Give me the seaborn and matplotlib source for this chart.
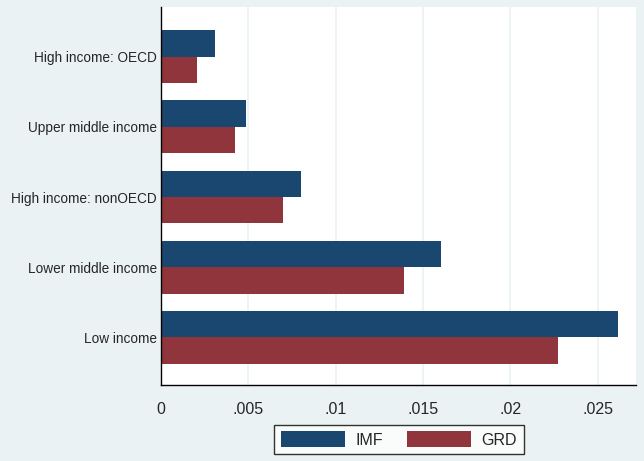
import pandas as pd
import numpy as np
import matplotlib
matplotlib.use("Agg")
import matplotlib.pyplot as plt
import seaborn as sns
from matplotlib.patches import Patch

# Data
categories = ["High income: OECD", "Upper middle income", "High income: nonOECD",
              "Lower middle income", "Low income"]
imf_values = [0.00312, 0.00485, 0.0080, 0.01603, 0.02617]
grd_values = [0.00209, 0.00421, 0.00697, 0.0139, 0.02273]
series_names = ["IMF", "GRD"]
x_ticks = [0, 0.005, 0.01, 0.015, 0.02, 0.025]
x_tick_labels = ["0", ".005", ".01", ".015", ".02", ".025"]

bg_color = "#EAF2F3"
colors = ["#1A476F", "#90353B"]

df = pd.DataFrame({
    "category": categories * 2,
    "value": imf_values + grd_values,
    "series": [series_names[0]] * len(categories) + [series_names[1]] * len(categories),
})

sns.set_style("white")
plt.rcParams["font.family"] = ["Liberation Sans", "DejaVu Sans"]

fig = plt.figure(figsize=(6.44, 4.61), dpi=100)
fig.patch.set_facecolor(bg_color)
ax = fig.add_axes([0.25, 0.1649, 0.7376, 0.8199])
ax.set_facecolor("white")

sns.barplot(data=df, x="value", y="category", hue="series", order=categories,
            hue_order=series_names, palette=colors, orient="h", width=0.754,
            saturation=1, gap=0, linewidth=0, ax=ax, legend=False)

ax.set_xlim(0, 0.0272)
ax.set_ylim(4.676, -0.705)
ax.set_xticks(x_ticks)
ax.set_xticklabels(x_tick_labels, fontsize=11.5)
ax.tick_params(axis="x", direction="out", length=5, width=1, color="black", pad=7)
ax.tick_params(axis="y", length=0, labelsize=9.8, pad=3)
ax.set_xlabel("")
ax.set_ylabel("")
ax.grid(axis="x", color=bg_color, linewidth=1.2)
ax.set_axisbelow(True)

for side in ["top", "right"]:
    ax.spines[side].set_visible(False)
for side in ["left", "bottom"]:
    ax.spines[side].set_color("black")
    ax.spines[side].set_linewidth(1)

handles = [Patch(facecolor=c, edgecolor="none") for c in colors]
leg = fig.legend(handles, series_names, loc="center", bbox_to_anchor=(399 / 644, 1 - 439.5 / 461),
                 ncol=2, frameon=True, fancybox=False, fontsize=11.5,
                 handlelength=4.0, handleheight=1.15, handletextpad=0.65, columnspacing=1.55,
                 borderpad=0.4, borderaxespad=0)
leg.get_frame().set_edgecolor("black")
leg.get_frame().set_linewidth(1)
leg.get_frame().set_facecolor("white")

fig.savefig("out.png", dpi=100, facecolor=bg_color)
